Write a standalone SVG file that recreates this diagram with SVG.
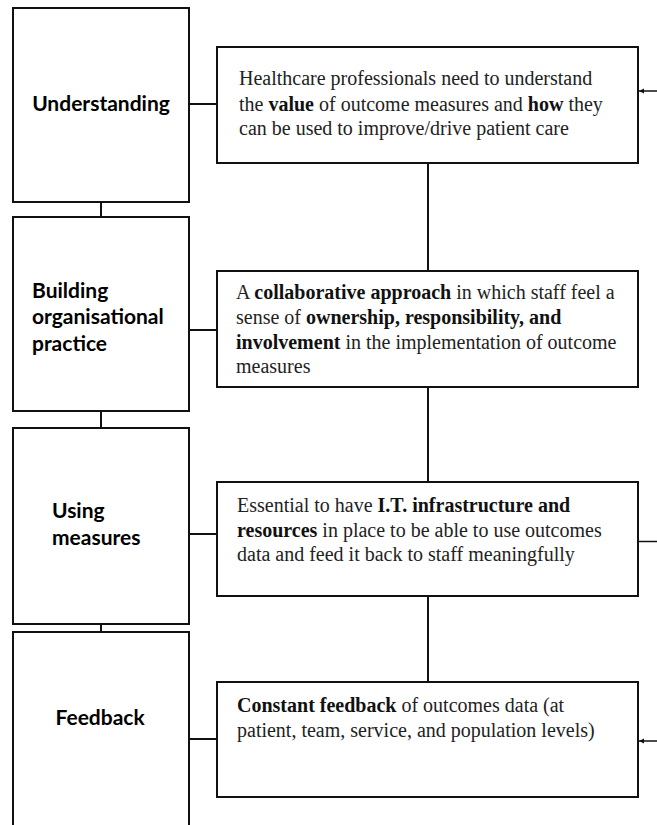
<svg xmlns="http://www.w3.org/2000/svg" width="657" height="825" viewBox="0 0 657 825">
<style>
.box{fill:#fff;stroke:#111;stroke-width:2}
.lbl{font-family:Lato,"Liberation Sans",sans-serif;font-weight:bold;font-size:21px;fill:#000}
.txt{font-family:"Liberation Serif","Times New Roman",serif;font-size:20px;fill:#222}
.b{font-weight:bold;fill:#111}
.con{stroke:#111;stroke-width:2;fill:none}
.arr{stroke:#111;stroke-width:1.5;fill:none}
</style>
<defs>
<marker id="ah" markerWidth="6" markerHeight="6" refX="5" refY="3" orient="auto" markerUnits="userSpaceOnUse">
<path d="M0,0.5 L5,3 L0,5.5 Z" fill="#111"/>
</marker>
</defs>
<rect width="657" height="825" fill="#fff"/>
<g id="connectors">
<line class="con" x1="101" y1="202" x2="101" y2="217"/>
<line class="con" x1="101" y1="411" x2="101" y2="428"/>
<line class="con" x1="101" y1="624" x2="101" y2="632"/>
<line class="con" x1="428" y1="163" x2="428" y2="271"/>
<line class="con" x1="428" y1="387" x2="428" y2="482"/>
<line class="con" x1="428" y1="596" x2="428" y2="682"/>
<line class="con" x1="189" y1="104" x2="217" y2="104"/>
<line class="con" x1="189" y1="330" x2="217" y2="330"/>
<line class="con" x1="189" y1="534" x2="217" y2="534"/>
<line class="con" x1="189" y1="739" x2="217" y2="739"/>
<line class="arr" x1="657" y1="91" x2="639" y2="91" marker-end="url(#ah)"/>
<line class="arr" x1="638" y1="541.5" x2="657" y2="541.5"/>
<line class="arr" x1="657" y1="741" x2="639" y2="741" marker-end="url(#ah)"/>
</g>
<g id="understanding">
<rect class="box" x="13" y="8" width="176" height="194"/>
<text class="lbl" x="101" y="111" text-anchor="middle">Understanding</text>
</g>
<g id="building">
<rect class="box" x="13" y="217" width="176" height="194"/>
<text class="lbl" x="32" y="298">Building</text>
<text class="lbl" x="32" y="324">organisational</text>
<text class="lbl" x="32" y="350.5">practice</text>
</g>
<g id="using">
<rect class="box" x="13" y="428" width="176" height="196"/>
<text class="lbl" x="52" y="518">Using</text>
<text class="lbl" x="52" y="545">measures</text>
</g>
<g id="feedback">
<rect class="box" x="13" y="632" width="176" height="200"/>
<text class="lbl" x="55.5" y="725">Feedback</text>
</g>
<g id="value">
<rect class="box" x="217" y="47" width="421" height="116"/>
<text class="txt" x="239" y="85">Healthcare professionals need to understand</text>
<text class="txt" x="239" y="110.5">the <tspan class="b">value</tspan> of outcome measures and <tspan class="b">how</tspan> they</text>
<text class="txt" x="239" y="135">can be used to improve/drive patient care</text>
</g>
<g id="collaborative">
<rect class="box" x="217" y="271" width="421" height="116"/>
<text class="txt" x="236" y="299">A <tspan class="b">collaborative approach</tspan> in which staff feel a</text>
<text class="txt" x="236" y="324">sense of <tspan class="b">ownership, responsibility, and</tspan></text>
<text class="txt" x="236" y="348.5"><tspan class="b">involvement</tspan> in the implementation of outcome</text>
<text class="txt" x="236" y="373">measures</text>
</g>
<g id="infrastructure">
<rect class="box" x="217" y="482" width="421" height="114"/>
<text class="txt" x="237" y="512">Essential to have <tspan class="b">I.T. infrastructure and</tspan></text>
<text class="txt" x="237" y="537"><tspan class="b">resources</tspan> in place to be able to use outcomes</text>
<text class="txt" x="237" y="560.5">data and feed it back to staff meaningfully</text>
</g>
<g id="constant">
<rect class="box" x="217" y="682" width="421" height="115"/>
<text class="txt" x="237" y="712"><tspan class="b">Constant feedback</tspan> of outcomes data (at</text>
<text class="txt" x="237" y="737">patient, team, service, and population levels)</text>
</g>
</svg>
